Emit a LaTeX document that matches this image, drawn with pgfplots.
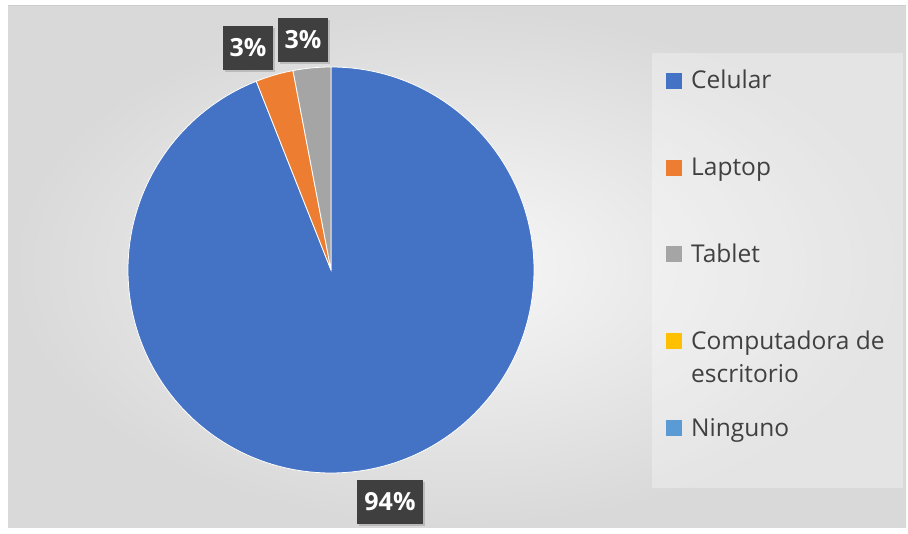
\documentclass[border=0pt]{standalone}
\usepackage{pgfplots}
\usepackage{pgfplotstable}
\usepackage{fontspec}
\setmainfont{Open Sans}
\pgfplotsset{compat=1.18}
\usetikzlibrary{shadows}

\definecolor{cCel}{HTML}{4472C4}
\definecolor{cLap}{HTML}{ED7D31}
\definecolor{cTab}{HTML}{A5A5A5}
\definecolor{cCom}{HTML}{FFC000}
\definecolor{cNin}{HTML}{5B9BD5}
\definecolor{lblbg}{HTML}{3F3F3F}
\definecolor{txt}{HTML}{404040}

% share (%), slice colour, label box centre (px, from top left)
\pgfplotstableread[col sep=comma]{
value,color,lx,ly
94,cCel,390,502
3,cLap,248,48
3,cTab,303,40
0,cCom,0,0
0,cNin,0,0
}\piedata

\def\cx{331}
\def\cy{264}
\def\rad{203}

\begin{document}
\begin{tikzpicture}
\begin{axis}[
    x=1pt, y=1pt,
    xmin=0, xmax=908, ymin=0, ymax=534,
    hide axis, clip=false,
  ]
  % background
  \fill[white] (axis cs:0,0) rectangle (axis cs:908,534);
  \shade[inner color=gray!6, outer color=gray!30] (axis cs:8,6) rectangle (axis cs:906,528);
  \draw[gray!40, line width=1pt] (axis cs:8,528) -- (axis cs:906,528);
  % legend panel
  \fill[white, opacity=0.3] (axis cs:652,46) rectangle (axis cs:903,481);

  % slices, clockwise from 12 o'clock
  \def\acc{0}
  \pgfplotsforeachungrouped \i in {0,...,4}{%
    \pgfplotstablegetelem{\i}{value}\of\piedata \let\val\pgfplotsretval
    \pgfplotstablegetelem{\i}{color}\of\piedata \let\col\pgfplotsretval
    \pgfmathsetmacro\sa{90-3.6*\acc}%
    \pgfmathsetmacro\ea{90-3.6*(\acc+\val)}%
    \ifdim\val pt>0pt
      \edef\cmd{\noexpand\fill[\col, draw=white, line width=0.8pt]
        (axis cs:\cx,\cy) -- ([shift={(\sa:\rad pt)}]axis cs:\cx,\cy)
        arc[start angle=\sa, end angle=\ea, radius=\rad pt] -- cycle;}%
      \cmd
    \fi
    \pgfmathsetmacro\acc{\acc+\val}%
  }

  % data labels
  \pgfplotsforeachungrouped \i in {0,...,4}{%
    \pgfplotstablegetelem{\i}{value}\of\piedata \let\val\pgfplotsretval
    \pgfplotstablegetelem{\i}{lx}\of\piedata \let\lx\pgfplotsretval
    \pgfplotstablegetelem{\i}{ly}\of\piedata \let\ly\pgfplotsretval
    \pgfmathsetmacro\lyy{534-\ly}%
    \ifdim\val pt>0pt
      \edef\cmd{\noexpand\node[fill=lblbg, text=white, font=\noexpand\fontsize{25}{30}\noexpand\selectfont\noexpand\bfseries,
        inner xsep=7pt, minimum height=44pt,
        drop shadow={shadow xshift=2pt, shadow yshift=-2pt, opacity=0.35}]
        at (axis cs:\lx,\lyy) {\val\noexpand\%};}%
      \cmd
    \fi
  }

  % legend
  \begin{scope}[font=\fontsize{24.5}{33}\selectfont, text=txt]
    \fill[cCel] (axis cs:666,445.3) rectangle ++(16pt,16pt);
    \node[anchor=base west, inner sep=0pt] at (axis cs:691,445) {Celular};
    \fill[cLap] (axis cs:666,358.3) rectangle ++(16pt,16pt);
    \node[anchor=base west, inner sep=0pt] at (axis cs:691,358) {Laptop};
    \fill[cTab] (axis cs:666,272) rectangle ++(16pt,16pt);
    \node[anchor=base west, inner sep=0pt] at (axis cs:691,271.5) {Tablet};
    \fill[cCom] (axis cs:666,185) rectangle ++(16pt,16pt);
    \node[anchor=base west, inner sep=0pt] at (axis cs:691,184.5) {Computadora de};
    \node[anchor=base west, inner sep=0pt] at (axis cs:691,151.5) {escritorio};
    \fill[cNin] (axis cs:666,98) rectangle ++(16pt,16pt);
    \node[anchor=base west, inner sep=0pt] at (axis cs:691,97.5) {Ninguno};
  \end{scope}
\end{axis}
\end{tikzpicture}
\end{document}
